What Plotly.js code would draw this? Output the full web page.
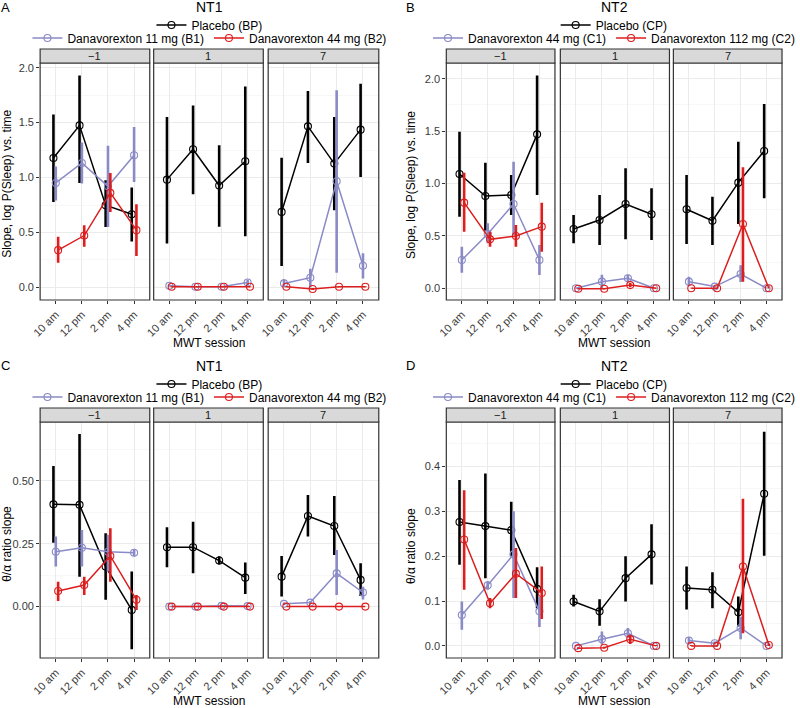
<!DOCTYPE html>
<html><head><meta charset="utf-8">
<script src="https://cdn.plot.ly/plotly-3.0.1.min.js"></script>
<style>html,body{margin:0;padding:0;background:#fff}#chart{width:800px;height:708px}</style>
</head><body><div id="chart"></div>
<script>
// ---------- DATA ----------
const sessions = ['10 am', '12 pm', '2 pm', '4 pm'];
const days = ['\u22121', '1', '7'];

// Panel A: NT1, slope log P(Sleep) vs time  (rows = day -1, 1, 7)
const A_names = ['Placebo (BP)', 'Danavorexton 11 mg (B1)', 'Danavorexton 44 mg (B2)'];
const A_BP_mean = [[1.178, 1.475, 0.748, 0.666], [0.981, 1.257, 0.927, 1.148], [0.687, 1.466, 1.127, 1.436]];
const A_BP_lo   = [[0.778, 0.95, 0.55, 0.418], [0.40, 0.848, 0.551, 0.466], [0.194, 1.133, 0.703, 1.006]];
const A_BP_hi   = [[1.575, 1.93, 0.975, 0.909], [1.551, 1.657, 1.294, 1.83], [1.18, 1.787, 1.551, 1.855]];
const A_B1_mean = [[0.951, 1.133, 0.92, 1.203], [0.015, 0.005, 0.005, 0.045], [0.036, 0.088, 0.966, 0.197]];
const A_B1_lo   = [[0.79, 0.945, 0.55, 0.96], [0.005, 0.0, 0.0, 0.02], [0.005, 0.0, 0.133, 0.08]];
const A_B1_hi   = [[1.10, 1.32, 1.29, 1.46], [0.025, 0.01, 0.01, 0.07], [0.075, 0.17, 1.794, 0.31]];
const A_B2_mean = [[0.339, 0.472, 0.86, 0.521], [0.005, 0.005, 0.005, 0.005], [0.005, -0.015, 0.005, 0.005]];
const A_B2_lo   = [[0.224, 0.369, 0.687, 0.285], [0.0, 0.0, 0.0, 0.0], [0.0, -0.025, 0.0, 0.0]];
const A_B2_hi   = [[0.46, 0.566, 1.042, 0.757], [0.01, 0.01, 0.01, 0.01], [0.01, -0.005, 0.01, 0.01]];

// Panel B: NT2, slope log P(Sleep) vs time
const B_names = ['Placebo (CP)', 'Danavorexton 44 mg (C1)', 'Danavorexton 112 mg (C2)'];
const B_CP_mean = [[1.091, 0.881, 0.89, 1.469], [0.566, 0.652, 0.804, 0.706], [0.754, 0.645, 1.008, 1.31]];
const B_CP_lo   = [[0.683, 0.55, 0.70, 0.89], [0.43, 0.413, 0.467, 0.461], [0.423, 0.413, 0.614, 0.859]];
const B_CP_hi   = [[1.494, 1.199, 1.081, 2.03], [0.70, 0.89, 1.145, 0.954], [1.081, 0.874, 1.399, 1.759]];
const B_C1_mean = [[0.27, 0.518, 0.804, 0.27], [0.0, 0.063, 0.095, 0.0], [0.063, 0.016, 0.136, 0.0]];
const B_C1_lo   = [[0.149, 0.43, 0.509, 0.127], [0.0, 0.0, 0.06, 0.0], [0.02, 0.01, 0.06, 0.0]];
const B_C1_hi   = [[0.397, 0.62, 1.208, 0.413], [0.005, 0.13, 0.13, 0.005], [0.11, 0.025, 0.22, 0.005]];
const B_C2_mean = [[0.817, 0.467, 0.499, 0.588], [-0.005, -0.005, 0.03, 0.0], [0.0, 0.0, 0.614, 0.0]];
const B_C2_lo   = [[0.54, 0.396, 0.397, 0.349], [-0.01, -0.01, 0.01, 0.0], [0.0, 0.0, 0.063, 0.0]];
const B_C2_hi   = [[1.103, 0.54, 0.604, 0.817], [0.0, 0.0, 0.05, 0.005], [0.005, 0.005, 1.155, 0.005]];

// Panel C: NT1, theta/alpha ratio slope
const C_names = A_names;
const C_BP_mean = [[0.406, 0.404, 0.159, -0.013], [0.236, 0.236, 0.183, 0.115], [0.119, 0.36, 0.32, 0.106]];
const C_BP_lo   = [[0.254, 0.119, 0.027, -0.169], [0.156, 0.132, 0.167, 0.05], [0.04, 0.278, 0.205, 0.042]];
const C_BP_hi   = [[0.558, 0.685, 0.291, 0.139], [0.315, 0.337, 0.2, 0.175], [0.201, 0.443, 0.439, 0.172]];
const C_B1_mean = [[0.218, 0.234, 0.218, 0.214], [0.0, 0.0, 0.003, 0.002], [0.011, 0.016, 0.132, 0.056]];
const C_B1_lo   = [[0.159, 0.159, 0.139, 0.2], [0.0, 0.0, 0.0, 0.0], [0.006, 0.01, 0.046, 0.028]];
const C_B1_hi   = [[0.278, 0.304, 0.285, 0.228], [0.002, 0.002, 0.006, 0.004], [0.016, 0.022, 0.225, 0.079]];
const C_B2_mean = [[0.062, 0.086, 0.201, 0.027], [0.0, 0.0, 0.0, 0.0], [0.0, 0.0, 0.0, 0.0]];
const C_B2_lo   = [[0.022, 0.046, 0.099, -0.013], [0.0, 0.0, 0.0, 0.0], [0.0, 0.0, 0.0, 0.0]];
const C_B2_hi   = [[0.099, 0.119, 0.311, 0.046], [0.0, 0.0, 0.0, 0.0], [0.0, 0.0, 0.0, 0.0]];

// Panel D: NT2, theta/alpha ratio slope
const D_names = B_names;
const D_CP_mean = [[0.276, 0.267, 0.258, 0.127], [0.099, 0.077, 0.151, 0.204], [0.129, 0.125, 0.075, 0.339]];
const D_CP_lo   = [[0.181, 0.151, 0.2, 0.084], [0.088, 0.045, 0.099, 0.137], [0.081, 0.084, 0.043, 0.201]];
const D_CP_hi   = [[0.37, 0.384, 0.321, 0.175], [0.114, 0.104, 0.2, 0.271], [0.177, 0.164, 0.11, 0.477]];
const D_C1_mean = [[0.069, 0.135, 0.204, 0.077], [0.0, 0.015, 0.028, 0.0], [0.012, 0.006, 0.04, 0.0]];
const D_C1_lo   = [[0.036, 0.125, 0.107, 0.042], [0.0, 0.003, 0.018, 0.0], [0.005, 0.003, 0.015, 0.0]];
const D_C1_hi   = [[0.099, 0.144, 0.3, 0.109], [0.002, 0.032, 0.04, 0.002], [0.02, 0.01, 0.065, 0.002]];
const D_C2_mean = [[0.237, 0.095, 0.161, 0.118], [-0.005, -0.004, 0.015, 0.0], [0.0, 0.0, 0.177, 0.002]];
const D_C2_lo   = [[0.125, 0.084, 0.107, 0.06], [-0.007, -0.006, 0.004, 0.0], [0.0, 0.0, 0.028, 0.0]];
const D_C2_hi   = [[0.347, 0.107, 0.218, 0.177], [-0.003, -0.002, 0.025, 0.002], [0.002, 0.002, 0.328, 0.004]];

// ---------- STYLE / LAYOUT CONFIG ----------
const W = 800, H = 708;
const colors = ['#000000', '#8A8AC6', '#DC1E1E'];
const dodge = [-0.09, 0, 0.09];
const FONT = 'Liberation Sans, Arial, Helvetica, sans-serif';
const TICKCOL = '#3A3A3A';

const panels = [
  {letter: 'A', title: 'NT1', names: A_names,
   series: [[A_BP_mean, A_BP_lo, A_BP_hi], [A_B1_mean, A_B1_lo, A_B1_hi], [A_B2_mean, A_B2_lo, A_B2_hi]],
   xs: [[41, 153], [157, 269], [274, 387]], top: 63, bottom: 300, range: [-0.115, 2.043],
   ticks: [0, 0.5, 1, 1.5, 2], fmt: v => v.toFixed(1), minor: 0.25,
   ytitle: 'Slope, log P(Sleep) vs. time', ytx: 7, yty: 184, lx: 6},
  {letter: 'B', title: 'NT2', names: B_names,
   series: [[B_CP_mean, B_CP_lo, B_CP_hi], [B_C1_mean, B_C1_lo, B_C1_hi], [B_C2_mean, B_C2_lo, B_C2_hi]],
   xs: [[456, 567], [572.5, 684], [688, 799]], top: 63, bottom: 300, range: [-0.112, 2.15],
   ticks: [0, 0.5, 1, 1.5, 2], fmt: v => v.toFixed(1), minor: 0.25,
   ytitle: 'Slope, log P(Sleep) vs. time', ytx: 420, yty: 185, lx: 419},
  {letter: 'C', title: 'NT1', names: C_names,
   series: [[C_BP_mean, C_BP_lo, C_BP_hi], [C_B1_mean, C_B1_lo, C_B1_hi], [C_B2_mean, C_B2_lo, C_B2_hi]],
   xs: [[41, 153], [157, 269], [274, 387]], top: 422, bottom: 658, range: [-0.204, 0.733],
   ticks: [0, 0.25, 0.5], fmt: v => v.toFixed(2), minor: 0.125,
   ytitle: '\u03B8/\u03B1 ratio slope', ytx: 7, yty: 544, lx: 6},
  {letter: 'D', title: 'NT2', names: D_names,
   series: [[D_CP_mean, D_CP_lo, D_CP_hi], [D_C1_mean, D_C1_lo, D_C1_hi], [D_C2_mean, D_C2_lo, D_C2_hi]],
   xs: [[456, 567], [572.5, 684], [688, 799]], top: 422, bottom: 658, range: [-0.027, 0.499],
   ticks: [0, 0.1, 0.2, 0.3, 0.4], fmt: v => v.toFixed(1), minor: 0.05,
   ytitle: '\u03B8/\u03B1 ratio slope', ytx: 420, yty: 546, lx: 419}
];

const px = x => x / W;
const py = y => 1 - y / H;

const traces = [];
const layout = {
  width: W, height: H, margin: {l: 0, r: 0, t: 0, b: 0},
  paper_bgcolor: '#ffffff', plot_bgcolor: '#ffffff',
  font: {family: FONT, size: 11, color: '#000'},
  showlegend: true, shapes: [], annotations: []
};

panels.forEach((p, pi) => {
  const yName = pi === 0 ? 'y' : 'y' + (pi + 1);
  const yKey = pi === 0 ? 'yaxis' : 'yaxis' + (pi + 1);
  const firstX = pi * 3 + 1;
  const legA = 'legend' + (pi * 2 === 0 ? '' : (pi * 2 + 1));
  const legB = 'legend' + (pi * 2 + 2);
  const cx = (p.xs[0][0] + p.xs[2][1]) / 2;

  layout[yKey] = {
    domain: [py(p.bottom), py(p.top)], anchor: firstX === 1 ? 'x' : 'x' + firstX,
    range: p.range, tickmode: 'array', tickvals: p.ticks, ticktext: p.ticks.map(p.fmt),
    ticks: 'outside', ticklen: 3, tickwidth: 1, tickcolor: '#333333',
    tickfont: {size: 11, color: TICKCOL, family: FONT},
    showgrid: true, gridcolor: '#EBEBEB', gridwidth: 1, zeroline: false, showline: false,
    minor: {tickmode: 'linear', tick0: 0, dtick: p.minor, showgrid: true, gridcolor: '#F2F2F2', gridwidth: 0.6, ticks: ''},
    fixedrange: true
  };

  p.xs.forEach((xr, j) => {
    const f = pi * 3 + j + 1;
    const xKey = f === 1 ? 'xaxis' : 'xaxis' + f;
    layout[xKey] = {
      domain: [px(xr[0]), px(xr[1])], anchor: yName, range: [0.4, 4.6],
      tickmode: 'array', tickvals: [1, 2, 3, 4], ticktext: sessions, tickangle: -45,
      ticks: 'outside', ticklen: 3, tickwidth: 1, tickcolor: '#333333',
      tickfont: {size: 11, color: TICKCOL, family: FONT},
      showgrid: true, gridcolor: '#EBEBEB', gridwidth: 1, zeroline: false, showline: false,
      fixedrange: true
    };
    // panel border
    layout.shapes.push({type: 'rect', xref: 'paper', yref: 'paper', layer: 'above',
      x0: px(xr[0]), x1: px(xr[1]), y0: py(p.bottom), y1: py(p.top),
      line: {color: '#333333', width: 1.2}, fillcolor: 'rgba(0,0,0,0)'});
    // strip
    layout.shapes.push({type: 'rect', xref: 'paper', yref: 'paper', layer: 'above',
      x0: px(xr[0]), x1: px(xr[1]), y0: py(p.top), y1: py(p.top - 14),
      line: {color: '#333333', width: 1.2}, fillcolor: '#D9D9D9'});
    layout.annotations.push({xref: 'paper', yref: 'paper', x: px((xr[0] + xr[1]) / 2), y: py(p.top - 7),
      text: days[j], showarrow: false, xanchor: 'center', yanchor: 'middle',
      font: {size: 11, color: '#1A1A1A', family: FONT}});

    p.series.forEach((s, k) => {
      const mean = s[0][j], lo = s[1][j], hi = s[2][j];
      traces.push({
        type: 'scatter', mode: 'lines+markers',
        x: [1, 2, 3, 4].map(v => v + dodge[k]), y: mean,
        xaxis: f === 1 ? 'x' : 'x' + f, yaxis: yName,
        name: p.names[k],
        legend: k === 0 ? legA : legB,
        showlegend: j === 0,
        line: {color: colors[k], width: 1.5},
        marker: {symbol: 'circle-open', size: 7, color: colors[k], line: {width: 1.1, color: colors[k]}},
        error_y: {type: 'data', symmetric: false,
          array: hi.map((h, i) => h - mean[i]), arrayminus: lo.map((l, i) => mean[i] - l),
          width: 0, thickness: 2.6, color: colors[k]},
        hoverinfo: 'skip'
      });
    });
  });

  // legends
  const legBase = {xref: 'paper', yref: 'paper', xanchor: 'center', yanchor: 'middle', orientation: 'h',
    bgcolor: 'rgba(0,0,0,0)', font: {size: 12, color: '#000', family: FONT}, itemwidth: 30,
    tracegroupgap: 0, itemclick: false, itemdoubleclick: false};
  layout[legA] = Object.assign({}, legBase, {x: px(cx), y: py(p.top - 38)});
  layout[legB] = Object.assign({}, legBase, {x: px(cx), y: py(p.top - 25)});

  // title, letter, axis titles
  layout.annotations.push({xref: 'paper', yref: 'paper', x: px(cx), y: py(p.top - 56), text: p.title,
    showarrow: false, xanchor: 'center', yanchor: 'middle', font: {size: 14, color: '#000', family: FONT}});
  layout.annotations.push({xref: 'paper', yref: 'paper', x: px(p.lx), y: py(p.top - 56), text: p.letter,
    showarrow: false, xanchor: 'center', yanchor: 'middle', font: {size: 13, color: '#000', family: FONT}});
  layout.annotations.push({xref: 'paper', yref: 'paper', x: px(p.ytx), y: py(p.yty), text: p.ytitle,
    textangle: -90, showarrow: false, xanchor: 'center', yanchor: 'middle', font: {size: 12, color: '#000', family: FONT}});
  layout.annotations.push({xref: 'paper', yref: 'paper', x: px(cx), y: py(p.bottom + 43), text: 'MWT session',
    showarrow: false, xanchor: 'center', yanchor: 'middle', font: {size: 12, color: '#000', family: FONT}});
});

Plotly.newPlot('chart', traces, layout, {staticPlot: true, displayModeBar: false});
</script>
</body></html>
